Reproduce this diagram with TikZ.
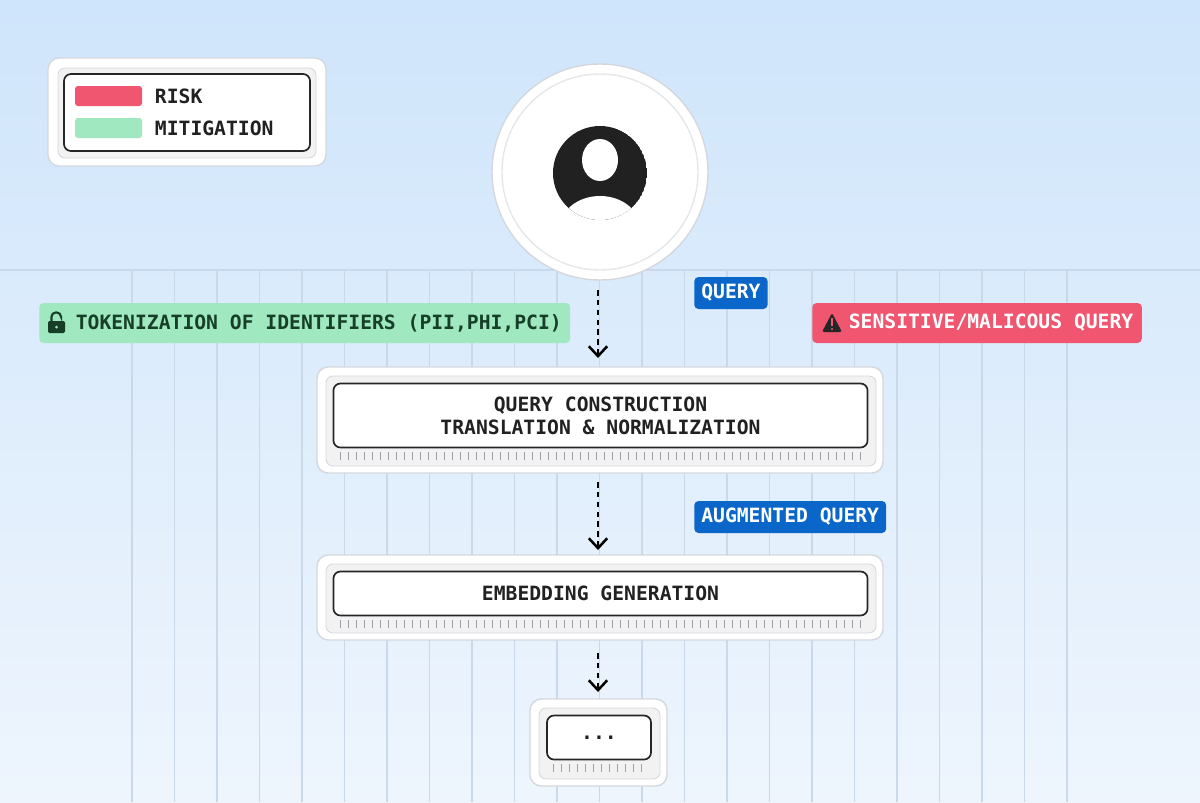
\documentclass[tikz,border=0pt]{standalone}
\usepackage{fontspec}
\setmonofont{DejaVu Sans Mono}
\setsansfont{DejaVu Sans}
\usetikzlibrary{positioning,arrows.meta,calc}
\definecolor{bgtop}{HTML}{CFE5FB}
\definecolor{bgbot}{HTML}{EEF5FD}
\definecolor{grid}{HTML}{C9D9EA}
\definecolor{risk}{HTML}{F0566F}
\definecolor{mitig}{HTML}{9FE8C0}
\definecolor{mitigtxt}{HTML}{173F27}
\definecolor{tagblue}{HTML}{0A66C8}
\definecolor{frame}{HTML}{D4D8DD}
\definecolor{tick}{HTML}{9AA0A6}
\begin{document}
\begin{tikzpicture}[x=0.025cm,y=-0.025cm,
    txt/.style={font=\ttfamily\bfseries\fontsize{14}{16.5}\selectfont, text=black!87},
    tag/.style={txt, rounded corners=3pt, inner xsep=5pt, inner ysep=0pt, anchor=west},
    outer/.style={draw=frame, fill=white, rounded corners=8pt, line width=1pt},
    inner/.style={draw=black!85, fill=white, rounded corners=5pt, line width=1.2pt},
    tray/.style={draw=frame, fill=black!5, rounded corners=5pt, line width=0.6pt},
    flow/.style={dashed, dash pattern=on 4pt off 3pt, line width=1.8pt, -{Straight Barb[length=7pt,width=13pt,line width=1.8pt]}}]
    % Background
    \useasboundingbox (0,0) rectangle (1200,802);
    \shade[top color=bgtop, bottom color=bgbot] (0,0) rectangle (1200,802);
    \foreach \i in {0,...,22}
        \draw[grid, line width=1pt] ({132+42.5*\i},270) -- ({132+42.5*\i},802);
    \draw[grid, line width=2pt] (0,270) -- (1200,270);

    % Legend
    \draw[outer] (48,58) rectangle (326,166);
    \draw[tray] (58,68) rectangle (316,158);
    \draw[inner] (64,74) rectangle (310,151);
    \fill[risk, rounded corners=2pt] (75,86) rectangle (142,106);
    \fill[mitig, rounded corners=2pt] (75,118) rectangle (142,138);
    \node[txt, anchor=west] (risk) at (150,96) {RISK};
    \node[txt, anchor=west] (mitigation) at (150,128) {MITIGATION};

    % User
    \draw[frame, fill=white, line width=1pt] (600,172) circle (108);
    \draw[frame!60, fill=white, line width=1pt] (600,172) circle (98);
    \begin{scope}
        \clip (600,173) circle (47);
        \fill[black!87] (600,173) circle (47);
        \fill[white] (600,160) ellipse (18 and 21);
        \fill[white] (600,228) ellipse (40 and 32);
    \end{scope}
    \coordinate (user) at (598,290);

    % Stages
    \draw[outer] (317,367) rectangle (883,473);
    \draw[tray] (326,376) rectangle (876,466);
    \node[inner, txt, minimum width=13.35cm, minimum height=1.6cm, align=center] (construct) at (600.5,415.5)
        {QUERY CONSTRUCTION\\TRANSLATION \& NORMALIZATION};
    \foreach \x in {340,348,...,860} \draw[tick, line width=0.5pt] (\x,452) -- (\x,460);

    \draw[outer] (317,555) rectangle (883,640);
    \draw[tray] (326,564) rectangle (876,633);
    \node[inner, txt, minimum width=13.35cm, minimum height=1.1cm] (embed) at (600.5,593.5) {EMBEDDING GENERATION};
    \foreach \x in {340,348,...,860} \draw[tick, line width=0.5pt] (\x,620) -- (\x,628);

    \draw[outer] (530,699) rectangle (667,786);
    \draw[tray] (539,708) rectangle (660,779);
    \node[inner, txt, minimum width=2.6cm, minimum height=1.1cm] (more) at (599,737.5) {...};
    \foreach \x in {553,561,...,645} \draw[tick, line width=0.5pt] (\x,764) -- (\x,772);

    % Flow
    \coordinate (in1) at (598,358);
    \coordinate (out1) at (598,482);
    \coordinate (in2) at (598,550);
    \coordinate (out2) at (598,653);
    \coordinate (in3) at (598,692);
    \draw[flow] (user) -- (in1);
    \draw[flow] (out1) -- (in2);
    \draw[flow] (out2) -- (in3);

    % Tags
    \node[tag, fill=tagblue, text=white, minimum height=0.8cm] (query) at (694,293) {QUERY};
    \node[tag, fill=tagblue, text=white, minimum height=0.8cm] (augmented) at (694,517) {AUGMENTED QUERY};
    \node[tag, fill=mitig, text=mitigtxt, minimum height=1cm, inner xsep=6pt] (tokenize) at (39,323)
        {\hspace{20pt}TOKENIZATION OF IDENTIFIERS (PII,PHI,PCI)};
    \node[tag, fill=risk, text=white, minimum height=1cm, inner xsep=6pt] (sensitive) at (812,323)
        {\hspace{20pt}SENSITIVE/MALICOUS QUERY};
    % Lock icon
    \draw[mitigtxt, line width=1.5pt, rounded corners=3pt] (51.5,322) -- (51.5,312.5) -- (61,312.5) -- (61,316);
    \fill[mitigtxt, rounded corners=1pt] (48,321) rectangle (65,333);
    \fill[mitig] (56.5,327) circle (1.5);
    % Warning icon
    \fill[black!85, rounded corners=1.5pt] (822,332) -- (832,313) -- (842,332) -- cycle;
    \fill[risk] (831,318) rectangle (833,326);
    \fill[risk] (832,329) circle (1.2);
\end{tikzpicture}
\end{document}
